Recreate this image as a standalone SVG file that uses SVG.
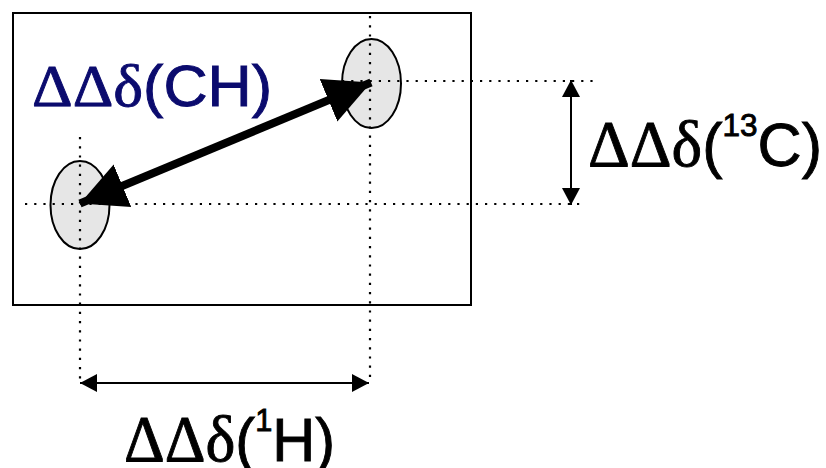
<svg xmlns="http://www.w3.org/2000/svg" width="826" height="468" viewBox="0 0 826 468">
<defs>
<style>
.frame{fill:#ffffff;stroke:#000;stroke-width:2}
.peak{fill:#e6e6e6;stroke:#000;stroke-width:2}
.guide{fill:none;stroke:#000;stroke-width:2.2;stroke-dasharray:2.2 7}
.dim{fill:none;stroke:#000;stroke-width:2}
.big{fill:none;stroke:#000;stroke-width:8}
.serif{font-family:"Liberation Serif","Times New Roman",serif}
.sans{font-family:"Liberation Sans",Arial,sans-serif}
.lbl{stroke-width:0.9}
</style>
<marker id="bigHead" markerUnits="userSpaceOnUse" markerWidth="50" markerHeight="50" refX="46" refY="23" orient="auto-start-reverse" viewBox="0 0 50 46">
<path d="M0,0 L46,23 L0,46 Z" fill="#000"/>
</marker>
<marker id="smallHead" markerUnits="userSpaceOnUse" markerWidth="18" markerHeight="18" refX="17" refY="9" orient="auto-start-reverse" viewBox="0 0 18 18">
<path d="M0,0 L17,9 L0,18 Z" fill="#000"/>
</marker>
</defs>
<rect x="0" y="0" width="826" height="468" fill="#fff"/>
<g id="spectrum-frame">
<rect class="frame" x="13" y="13" width="458" height="292"/>
</g>
<g id="peak-1">
<ellipse class="peak" cx="80" cy="205" rx="29.5" ry="44"/>
</g>
<g id="peak-2">
<ellipse class="peak" cx="371.5" cy="83.5" rx="29.5" ry="44.5"/>
</g>
<g id="connectors">
<line class="guide" x1="80" y1="137" x2="80" y2="380"/>
<line class="guide" x1="370" y1="16" x2="370" y2="380"/>
<line class="guide" x1="25" y1="204" x2="582" y2="204"/>
<line class="guide" x1="342" y1="81" x2="594" y2="81"/>
<line class="big" x1="80" y1="203.5" x2="371" y2="82.5" marker-start="url(#bigHead)" marker-end="url(#bigHead)"/>
<line class="dim" x1="80" y1="383" x2="369" y2="383" marker-start="url(#smallHead)" marker-end="url(#smallHead)"/>
<line class="dim" x1="571" y1="80" x2="571" y2="205" marker-start="url(#smallHead)" marker-end="url(#smallHead)"/>
</g>
<g id="label-ch">
<text class="lbl" x="32" y="106" fill="#0b0b6e" stroke="#0b0b6e" textLength="240" lengthAdjust="spacingAndGlyphs"><tspan class="serif" font-size="60">ΔΔδ</tspan><tspan class="sans" font-size="58">(CH)</tspan></text>
</g>
<g id="label-13c">
<text class="lbl" x="588" y="166" fill="#000" stroke="#000" textLength="234" lengthAdjust="spacingAndGlyphs"><tspan class="serif" font-size="66">ΔΔδ</tspan><tspan class="sans" font-size="62">(</tspan><tspan class="sans" font-size="32" dy="-30">13</tspan><tspan class="sans" font-size="62" dy="30">C)</tspan></text>
</g>
<g id="label-1h">
<text class="lbl" x="124" y="461" fill="#000" stroke="#000" textLength="211" lengthAdjust="spacingAndGlyphs"><tspan class="serif" font-size="66">ΔΔδ</tspan><tspan class="sans" font-size="62">(</tspan><tspan class="sans" font-size="32" dy="-30">1</tspan><tspan class="sans" font-size="62" dy="30">H)</tspan></text>
</g>
</svg>
